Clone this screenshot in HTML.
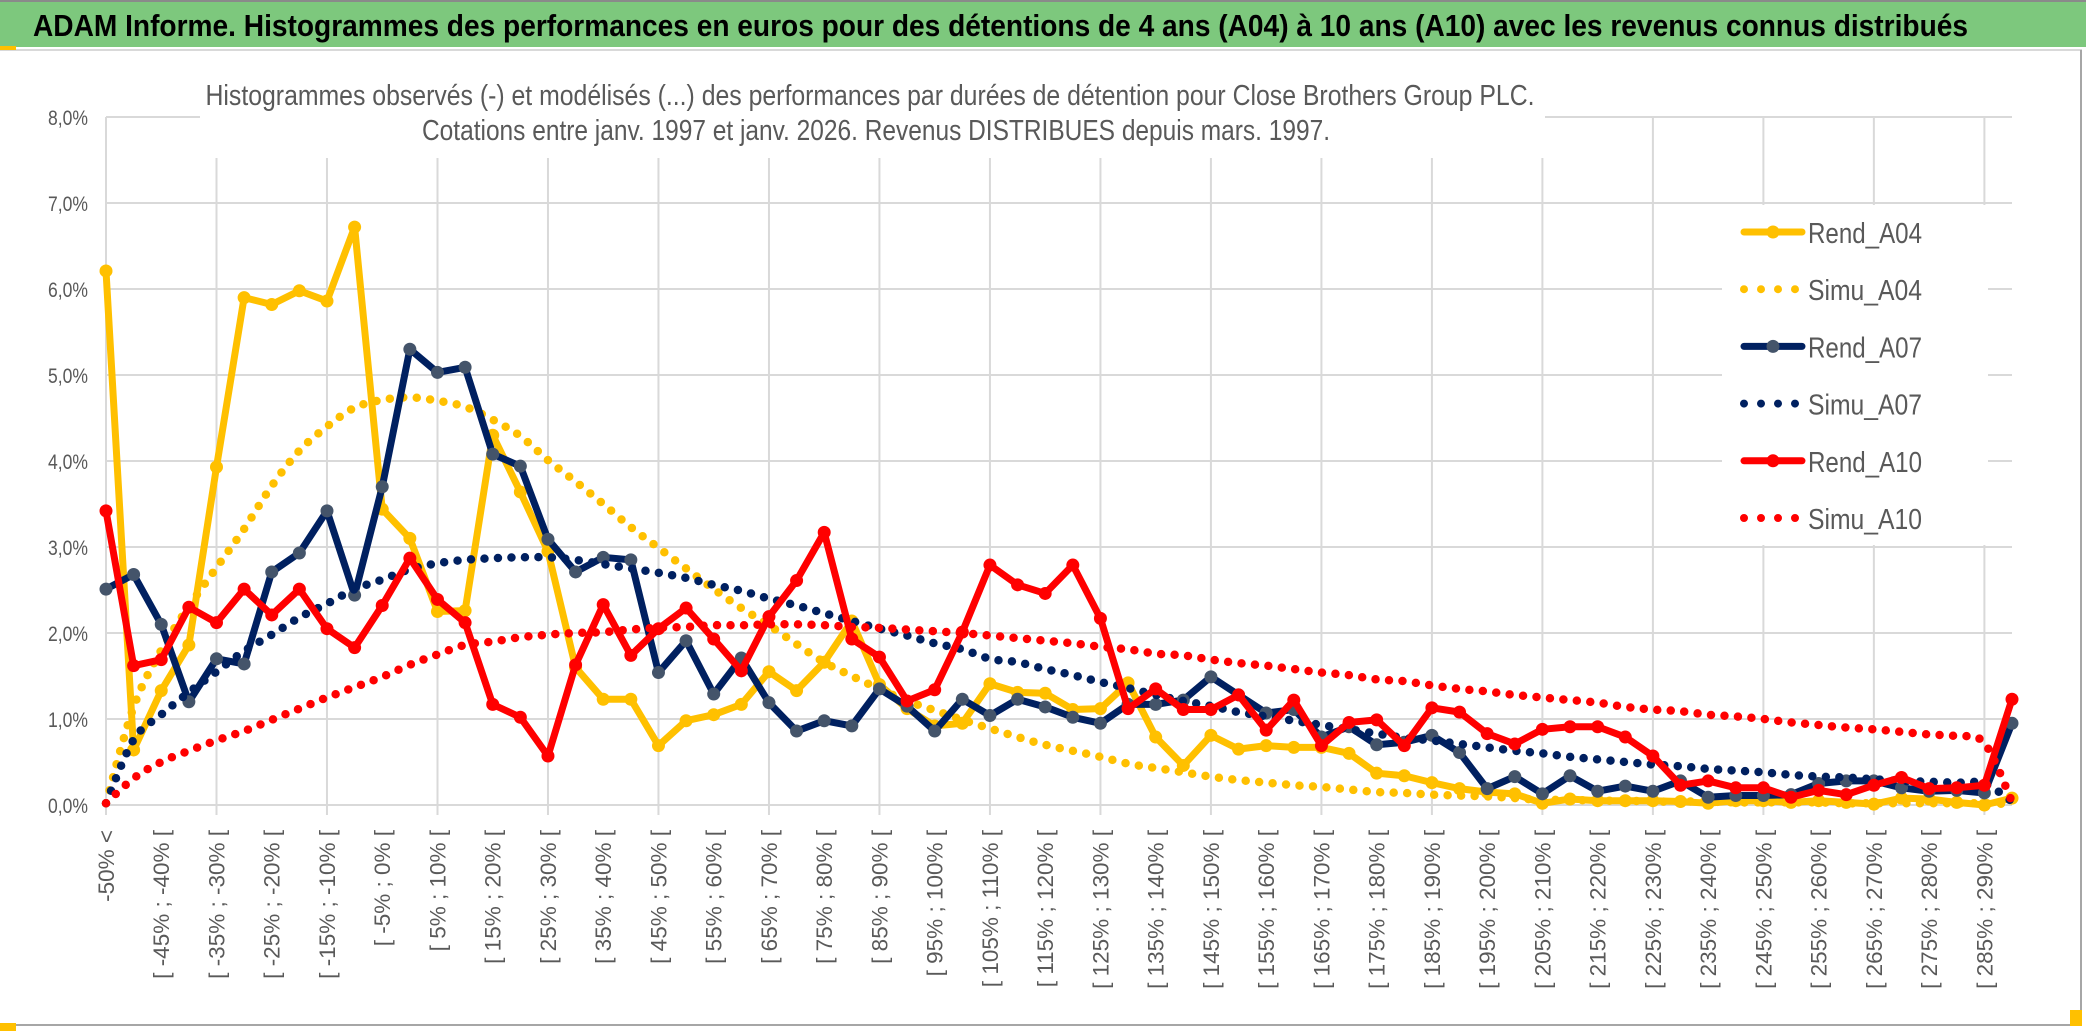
<!DOCTYPE html>
<html><head><meta charset="utf-8">
<style>
html,body{margin:0;padding:0;background:#fff;}
body{width:2086px;height:1031px;overflow:hidden;font-family:"Liberation Sans",sans-serif;}
svg{display:block;}
</style></head>
<body>
<svg id="chart" width="2086" height="1031" viewBox="0 0 2086 1031" xmlns="http://www.w3.org/2000/svg">
  <rect x="0" y="0" width="2086" height="1031" fill="#ffffff"/>
  <rect x="0" y="0" width="2086" height="47" fill="#7dc87d"/>
  <line x1="0" y1="1" x2="2086" y2="1" stroke="#8a8a8a" stroke-width="2"/>
  <text x="33" y="36" font-family="Liberation Sans, sans-serif" font-weight="bold" font-size="31" fill="#000" textLength="1935" lengthAdjust="spacingAndGlyphs">ADAM Informe. Histogrammes des performances en euros pour des détentions de 4 ans (A04) à 10 ans (A10) avec les revenus connus distribués</text>
  <line x1="0" y1="50" x2="2082" y2="50" stroke="#d9d9d9" stroke-width="2"/>
  <line x1="2081" y1="50" x2="2081" y2="1026" stroke="#a6a6a6" stroke-width="2"/>
  <line x1="0" y1="1025" x2="2082" y2="1025" stroke="#a6a6a6" stroke-width="2"/>
  <rect x="0" y="1023" width="16" height="8" fill="#ffc000"/>
  <rect x="0" y="46" width="16" height="4" fill="#ffc000"/>
  <rect x="2070" y="1010" width="12" height="16" fill="#ffc000"/>
  <g id="grid"></g>
  <g id="axes"></g>
  <rect x="200" y="72" width="1345" height="86" fill="#ffffff"/>
  <text x="870" y="105" text-anchor="middle" font-size="29" fill="#595959" textLength="1329" lengthAdjust="spacingAndGlyphs">Histogrammes observés (-) et modélisés (...) des performances par durées de détention pour Close Brothers Group PLC.</text>
  <text x="876" y="140" text-anchor="middle" font-size="29" fill="#595959" textLength="908" lengthAdjust="spacingAndGlyphs">Cotations entre janv. 1997 et janv. 2026. Revenus DISTRIBUES depuis mars. 1997.</text>
  <g id="series"></g>
  <g id="legend"></g>
</svg>
<script>
const yTicks = [0,1,2,3,4,5,6,7,8];
const nCats = 70;
const rendA04 = [6.21,0.64,1.33,1.86,3.93,5.90,5.82,5.98,5.86,6.72,3.44,3.10,2.25,2.26,4.30,3.64,2.95,1.60,1.23,1.23,0.69,0.98,1.05,1.17,1.55,1.33,1.66,2.14,1.40,1.12,0.92,0.95,1.41,1.31,1.30,1.11,1.12,1.42,0.79,0.46,0.81,0.65,0.69,0.67,0.67,0.60,0.37,0.34,0.26,0.19,0.15,0.13,0.02,0.07,0.05,0.05,0.05,0.04,0.02,0.05,0.05,0.03,0.05,0.03,0.01,0.08,0.07,0.03,0.00,0.08];
const simuA04 = [0.02,1.14,1.80,2.31,2.76,3.21,3.71,4.12,4.40,4.62,4.71,4.74,4.70,4.63,4.48,4.29,4.01,3.76,3.50,3.23,2.99,2.75,2.51,2.29,2.09,1.87,1.66,1.50,1.35,1.21,1.10,0.99,0.89,0.79,0.70,0.63,0.56,0.48,0.43,0.38,0.33,0.29,0.26,0.23,0.21,0.18,0.15,0.14,0.12,0.11,0.10,0.08,0.06,0.06,0.05,0.05,0.04,0.04,0.04,0.03,0.03,0.03,0.03,0.02,0.02,0.02,0.02,0.02,0.02,0.01];
const rendA07 = [2.51,2.68,2.10,1.20,1.70,1.64,2.71,2.93,3.42,2.44,3.70,5.30,5.03,5.09,4.08,3.94,3.09,2.71,2.88,2.85,1.54,1.91,1.29,1.71,1.19,0.86,0.98,0.92,1.35,1.15,0.86,1.23,1.04,1.23,1.14,1.02,0.95,1.17,1.17,1.22,1.49,1.28,1.07,1.11,0.79,0.91,0.70,0.73,0.81,0.61,0.19,0.33,0.13,0.34,0.16,0.22,0.16,0.28,0.09,0.11,0.11,0.12,0.25,0.28,0.28,0.20,0.16,0.17,0.14,0.95];
const simuA07 = [0.02,0.76,1.05,1.31,1.55,1.79,1.98,2.18,2.34,2.51,2.62,2.74,2.81,2.85,2.87,2.88,2.88,2.85,2.80,2.75,2.70,2.64,2.56,2.49,2.40,2.32,2.23,2.14,2.05,1.97,1.88,1.81,1.70,1.66,1.58,1.51,1.43,1.36,1.28,1.21,1.15,1.08,1.03,0.98,0.93,0.88,0.83,0.78,0.75,0.71,0.67,0.63,0.60,0.56,0.53,0.50,0.47,0.45,0.42,0.40,0.38,0.35,0.33,0.32,0.30,0.28,0.27,0.26,0.25,0.04];
const rendA10 = [3.42,1.62,1.69,2.30,2.12,2.51,2.21,2.51,2.05,1.83,2.32,2.87,2.39,2.12,1.17,1.02,0.57,1.63,2.33,1.74,2.05,2.29,1.93,1.56,2.19,2.61,3.17,1.93,1.72,1.21,1.34,2.01,2.79,2.56,2.46,2.79,2.17,1.12,1.35,1.11,1.11,1.28,0.87,1.22,0.69,0.96,0.99,0.69,1.13,1.08,0.83,0.71,0.88,0.91,0.91,0.79,0.57,0.23,0.28,0.20,0.20,0.09,0.17,0.12,0.23,0.32,0.19,0.20,0.23,1.23];
const simuA10 = [0.02,0.31,0.50,0.63,0.75,0.86,0.99,1.12,1.25,1.37,1.49,1.63,1.75,1.86,1.90,1.95,1.98,2.00,2.01,2.04,2.06,2.07,2.09,2.09,2.10,2.10,2.09,2.07,2.06,2.04,2.02,2.00,1.97,1.94,1.91,1.88,1.84,1.81,1.76,1.74,1.69,1.65,1.62,1.58,1.54,1.51,1.46,1.44,1.39,1.35,1.32,1.28,1.25,1.22,1.19,1.14,1.11,1.09,1.05,1.03,1.00,0.96,0.93,0.90,0.88,0.85,0.82,0.80,0.72,0.04];
const legendNames = ["Rend_A04","Simu_A04","Rend_A07","Simu_A07","Rend_A10","Simu_A10"];

const NS = "http://www.w3.org/2000/svg";
const X0 = 106, X1 = 2012, Y0 = 805, YTOP = 117;
function xScale(i){ return X0 + i*(X1-X0)/(nCats-1); }
function yScale(v){ return Y0 - v*(Y0-YTOP)/8; }
function mk(tag, attrs, parent){ const e=document.createElementNS(NS,tag); for(const k in attrs) e.setAttribute(k,attrs[k]); parent.appendChild(e); return e; }
function catLabel(i){
  if(i===0) return "-50% <";
  const a = -50 + 5*(i-1);
  return "[ " + a + "% ; " + (a+5) + "% [";
}

const grid = document.getElementById('grid');
const axes = document.getElementById('axes');
yTicks.forEach(t=>{
  const l = mk('line',{x1:X0,x2:X1,y1:yScale(t),y2:yScale(t),stroke:'#d9d9d9','stroke-width':2},grid);
  
  
  const tx = mk('text',{x:88,y:yScale(t)+8,'text-anchor':'end','font-size':21,fill:'#595959',textLength:40,lengthAdjust:'spacingAndGlyphs'},axes);
  tx.textContent = t.toFixed(1).replace('.',',') + '%';
  
  
});
for(let i=0;i<nCats;i+=4){
  const l = mk('line',{x1:xScale(i),x2:xScale(i),y1:YTOP,y2:Y0+10,stroke:'#d9d9d9','stroke-width':2},grid);
  
  
}
for(let i=0;i<nCats;i+=2){
  const x = xScale(i);
  const tx = mk('text',{transform:'translate('+(x+8)+',830) rotate(-90)','text-anchor':'end','font-size':22.5,fill:'#595959'},axes);
  tx.textContent = catLabel(i);
  
  
}

function smoothPath(vals){
  const p = vals.map((v,i)=>[xScale(i),yScale(v)]);
  let d = 'M'+p[0][0]+','+p[0][1];
  for(let i=0;i<p.length-1;i++){
    const p0=p[Math.max(i-1,0)], p1=p[i], p2=p[i+1], p3=p[Math.min(i+2,p.length-1)];
    const c1=[p1[0]+(p2[0]-p0[0])/6, p1[1]+(p2[1]-p0[1])/6];
    const c2=[p2[0]-(p3[0]-p1[0])/6, p2[1]-(p3[1]-p1[1])/6];
    d += ' C'+c1[0]+','+c1[1]+' '+c2[0]+','+c2[1]+' '+p2[0]+','+p2[1];
  }
  return d;
}
function linePath(vals){
  return vals.map((v,i)=>(i?'L':'M')+xScale(i)+','+yScale(v)).join(' ');
}
const layer = document.getElementById('series');
function drawRend(vals, color, markerColor, name){
  const g = mk('g',{},layer);
  
  
  const p = mk('path',{d:linePath(vals),fill:'none',stroke:color,'stroke-width':7,'stroke-linejoin':'round','stroke-linecap':'round'},g);
  
  
  vals.forEach((v,i)=>{
    const c = mk('circle',{cx:xScale(i),cy:yScale(v),r:6.5,fill:markerColor},g);
    
    
  });
}
function drawSimu(vals, color, name){
  const p = mk('path',{d:smoothPath(vals),fill:'none',stroke:color,'stroke-width':8.5,'stroke-linecap':'round','stroke-dasharray':'0 13.5'},layer);
  
  
}
drawRend(rendA04,'#ffc000','#ffc000','rend-a04');
drawSimu(simuA04,'#ffc000','simu-a04');
drawRend(rendA07,'#002060','#44546a','rend-a07');
drawSimu(simuA07,'#002060','simu-a07');
drawRend(rendA10,'#ff0000','#ff0000','rend-a10');
drawSimu(simuA10,'#ff0000','simu-a10');

const lg = document.getElementById('legend');
const bg = mk('rect',{x:1722,y:205,width:266,height:340,fill:'#ffffff'},lg);


const legColors = ['#ffc000','#ffc000','#002060','#002060','#ff0000','#ff0000'];
const legMarker = ['#ffc000',null,'#44546a',null,'#ff0000',null];
legendNames.forEach((nm,k)=>{
  const y = 232 + k*57.2;
  const g = mk('g',{},lg);
  
  
  if(legMarker[k]){
    mk('line',{x1:1744,x2:1802,y1:y,y2:y,stroke:legColors[k],'stroke-width':7,'stroke-linecap':'round'},g);
    mk('circle',{cx:1773,cy:y,r:6.5,fill:legMarker[k]},g);
  } else {
    mk('line',{x1:1744,x2:1800,y1:y,y2:y,stroke:legColors[k],'stroke-width':8,'stroke-linecap':'round','stroke-dasharray':'0 17'},g);
  }
  const t = mk('text',{x:1808,y:y+11,'font-size':29,fill:'#595959',textLength:114,lengthAdjust:'spacingAndGlyphs'},g);
  t.textContent = nm;
});
</script>
</body></html>
